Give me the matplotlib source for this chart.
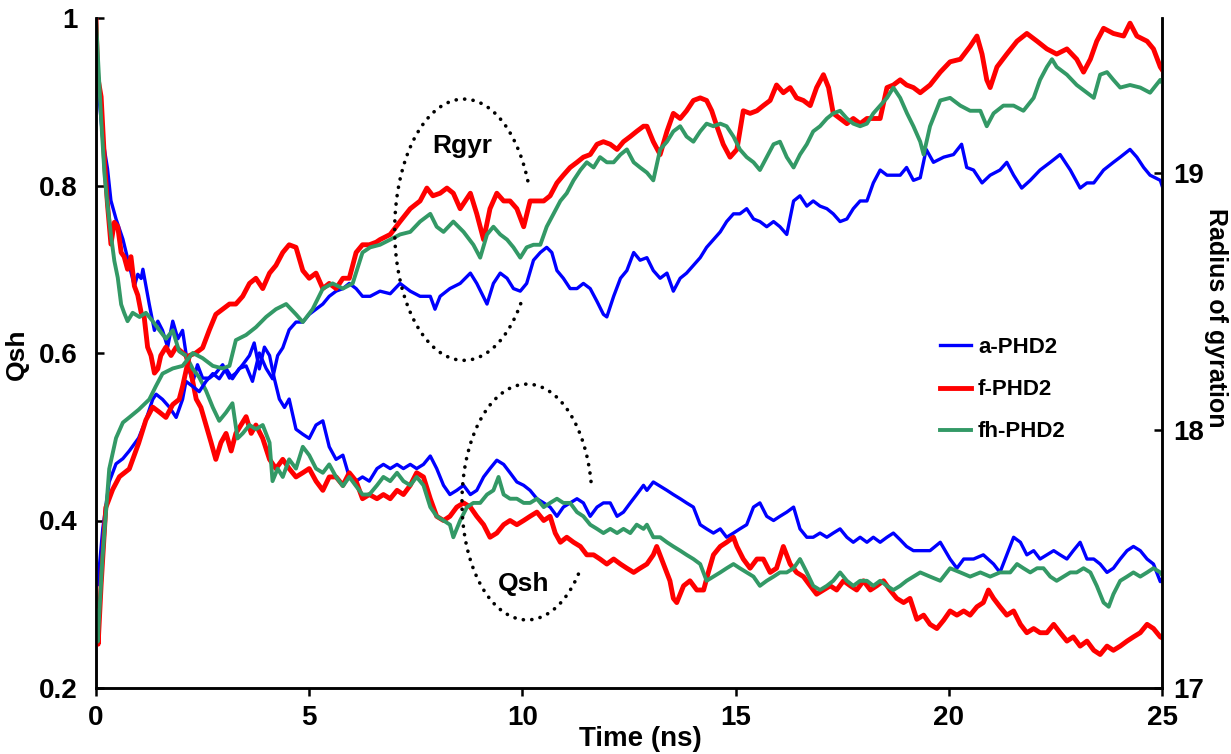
import matplotlib.pyplot as plt
import numpy as np

plt.rcParams['font.family'] = ['Liberation Sans', 'DejaVu Sans']

# Qsh (left axis): (time ns, value)
a_qsh = [(0, 1.0), (0.03, 0.93), (0.08, 0.90), (0.16, 0.855), (0.27, 0.82), (0.35, 0.782), (0.47, 0.76),
         (0.63, 0.736), (0.78, 0.705), (0.9, 0.68), (0.98, 0.694), (1.06, 0.689), (1.1, 0.70), (1.25, 0.658),
         (1.37, 0.627), (1.45, 0.638), (1.56, 0.627), (1.68, 0.607), (1.8, 0.638), (1.92, 0.617), (2.03, 0.627),
         (2.15, 0.586), (2.27, 0.565), (2.38, 0.586), (2.5, 0.57), (2.66, 0.57), (2.81, 0.576), (2.97, 0.586),
         (3.13, 0.57), (3.28, 0.576), (3.44, 0.586), (3.6, 0.597), (3.71, 0.612), (3.83, 0.581), (3.95, 0.607),
         (4.07, 0.597), (4.18, 0.57), (4.3, 0.545), (4.42, 0.535), (4.53, 0.545), (4.69, 0.509), (4.85, 0.503),
         (5.0, 0.498), (5.16, 0.514), (5.32, 0.519), (5.47, 0.488), (5.63, 0.473), (5.79, 0.478), (5.94, 0.452),
         (6.1, 0.447), (6.25, 0.452), (6.41, 0.447), (6.59, 0.462), (6.74, 0.467), (6.9, 0.462), (7.06, 0.467),
         (7.21, 0.462), (7.37, 0.467), (7.52, 0.462), (7.68, 0.467), (7.84, 0.477), (7.99, 0.462), (8.15, 0.442),
         (8.3, 0.431), (8.46, 0.436), (8.62, 0.442), (8.78, 0.431), (8.93, 0.436), (9.09, 0.452), (9.24, 0.462),
         (9.4, 0.472), (9.56, 0.467), (9.71, 0.457), (9.87, 0.446), (10.03, 0.442), (10.18, 0.436), (10.34, 0.426),
         (10.5, 0.421), (10.65, 0.416), (10.81, 0.405), (10.96, 0.416), (11.12, 0.421), (11.28, 0.426),
         (11.43, 0.421), (11.59, 0.405), (11.75, 0.416), (11.9, 0.421), (12.06, 0.421), (12.22, 0.405),
         (12.37, 0.41), (12.53, 0.421), (12.68, 0.431), (12.84, 0.442), (12.92, 0.436), (13.07, 0.446),
         (13.23, 0.441), (13.39, 0.436), (13.54, 0.431), (13.7, 0.426), (13.85, 0.421), (14.01, 0.416),
         (14.17, 0.395), (14.32, 0.39), (14.48, 0.385), (14.64, 0.39), (14.79, 0.38), (14.95, 0.385), (15.1, 0.39),
         (15.26, 0.395), (15.42, 0.416), (15.57, 0.421), (15.73, 0.405), (15.89, 0.40), (16.04, 0.405),
         (16.2, 0.41), (16.36, 0.416), (16.51, 0.39), (16.67, 0.38), (16.82, 0.38), (16.98, 0.385), (17.14, 0.38),
         (17.29, 0.385), (17.45, 0.39), (17.61, 0.38), (17.76, 0.374), (17.92, 0.38), (18.08, 0.374),
         (18.23, 0.38), (18.39, 0.374), (18.55, 0.38), (18.7, 0.385), (18.86, 0.377), (19.01, 0.369),
         (19.17, 0.364), (19.33, 0.364), (19.56, 0.364), (19.8, 0.374), (20.03, 0.354), (20.19, 0.343),
         (20.35, 0.354), (20.58, 0.354), (20.81, 0.359), (21.05, 0.348), (21.2, 0.338), (21.36, 0.359),
         (21.52, 0.38), (21.68, 0.374), (21.83, 0.359), (21.99, 0.364), (22.14, 0.354), (22.3, 0.359),
         (22.46, 0.364), (22.61, 0.359), (22.77, 0.354), (22.92, 0.364), (23.08, 0.374), (23.24, 0.354),
         (23.4, 0.354), (23.55, 0.348), (23.71, 0.338), (23.86, 0.343), (24.02, 0.354), (24.18, 0.364),
         (24.33, 0.369), (24.49, 0.364), (24.65, 0.354), (24.8, 0.348), (24.96, 0.327), (25.0, 0.33)]

f_qsh = [(0, 1.0), (0.04, 0.93), (0.12, 0.906), (0.2, 0.829), (0.27, 0.777), (0.35, 0.73), (0.43, 0.756),
         (0.51, 0.751), (0.59, 0.72), (0.66, 0.715), (0.74, 0.70), (0.82, 0.715), (0.9, 0.68), (0.98, 0.669),
         (1.06, 0.648), (1.13, 0.643), (1.21, 0.607), (1.29, 0.597), (1.37, 0.576), (1.45, 0.581), (1.52, 0.597),
         (1.64, 0.607), (1.76, 0.597), (1.88, 0.607), (1.99, 0.602), (2.11, 0.597), (2.23, 0.576), (2.35, 0.545),
         (2.46, 0.535), (2.58, 0.514), (2.7, 0.493), (2.81, 0.473), (2.93, 0.493), (3.05, 0.504), (3.17, 0.483),
         (3.28, 0.504), (3.4, 0.514), (3.52, 0.524), (3.64, 0.504), (3.75, 0.514), (3.91, 0.498), (4.07, 0.473),
         (4.22, 0.462), (4.38, 0.473), (4.53, 0.462), (4.69, 0.452), (4.85, 0.457), (5.0, 0.462), (5.16, 0.447),
         (5.32, 0.436), (5.47, 0.452), (5.63, 0.452), (5.79, 0.442), (5.94, 0.457), (6.1, 0.447), (6.25, 0.426),
         (6.41, 0.431), (6.59, 0.426), (6.74, 0.431), (6.9, 0.426), (7.06, 0.436), (7.21, 0.431), (7.37, 0.442),
         (7.52, 0.457), (7.68, 0.452), (7.84, 0.426), (7.99, 0.405), (8.15, 0.40), (8.3, 0.405), (8.46, 0.416),
         (8.62, 0.421), (8.78, 0.416), (8.93, 0.405), (9.09, 0.395), (9.24, 0.38), (9.4, 0.385), (9.56, 0.395),
         (9.71, 0.40), (9.87, 0.395), (10.03, 0.40), (10.18, 0.405), (10.34, 0.41), (10.5, 0.40), (10.65, 0.405),
         (10.77, 0.385), (10.89, 0.374), (11.04, 0.38), (11.2, 0.374), (11.36, 0.369), (11.51, 0.359),
         (11.67, 0.359), (11.82, 0.354), (11.98, 0.348), (12.14, 0.354), (12.3, 0.348), (12.45, 0.343),
         (12.61, 0.338), (12.76, 0.343), (12.92, 0.348), (13.07, 0.359), (13.15, 0.369), (13.31, 0.348),
         (13.46, 0.328), (13.54, 0.307), (13.62, 0.302), (13.78, 0.322), (13.93, 0.328), (14.09, 0.317),
         (14.25, 0.317), (14.36, 0.338), (14.48, 0.359), (14.64, 0.369), (14.79, 0.374), (14.95, 0.38),
         (15.03, 0.369), (15.18, 0.354), (15.34, 0.343), (15.5, 0.354), (15.65, 0.354), (15.81, 0.338),
         (15.96, 0.343), (16.12, 0.369), (16.28, 0.348), (16.43, 0.338), (16.59, 0.333), (16.75, 0.322),
         (16.9, 0.312), (17.06, 0.317), (17.22, 0.322), (17.37, 0.317), (17.53, 0.328), (17.69, 0.322),
         (17.84, 0.317), (18.0, 0.328), (18.16, 0.317), (18.31, 0.322), (18.47, 0.328), (18.62, 0.317),
         (18.78, 0.307), (18.94, 0.302), (19.09, 0.307), (19.25, 0.282), (19.41, 0.287), (19.56, 0.276),
         (19.72, 0.271), (19.88, 0.281), (20.03, 0.292), (20.19, 0.287), (20.35, 0.292), (20.5, 0.287),
         (20.66, 0.297), (20.81, 0.302), (20.93, 0.317), (21.05, 0.307), (21.2, 0.297), (21.36, 0.287),
         (21.52, 0.292), (21.68, 0.276), (21.83, 0.266), (21.99, 0.271), (22.14, 0.266), (22.3, 0.266),
         (22.46, 0.276), (22.61, 0.266), (22.77, 0.256), (22.92, 0.261), (23.08, 0.25), (23.24, 0.256),
         (23.4, 0.245), (23.55, 0.24), (23.71, 0.25), (23.86, 0.245), (24.02, 0.25), (24.18, 0.256),
         (24.33, 0.261), (24.49, 0.266), (24.65, 0.276), (24.8, 0.271), (24.96, 0.261), (25.0, 0.26)]

fh_qsh = [(0, 1.0), (0.04, 0.958), (0.12, 0.88), (0.2, 0.813), (0.27, 0.777), (0.35, 0.741), (0.43, 0.71),
          (0.51, 0.69), (0.59, 0.658), (0.66, 0.648), (0.74, 0.638), (0.86, 0.648), (1.02, 0.643), (1.17, 0.648),
          (1.33, 0.638), (1.49, 0.627), (1.64, 0.617), (1.8, 0.627), (1.95, 0.602), (2.11, 0.597), (2.27, 0.581),
          (2.42, 0.571), (2.58, 0.555), (2.74, 0.535), (2.89, 0.519), (3.05, 0.529), (3.2, 0.54), (3.32, 0.498),
          (3.44, 0.504), (3.6, 0.514), (3.75, 0.509), (3.91, 0.514), (4.07, 0.493), (4.14, 0.447), (4.26, 0.462),
          (4.38, 0.452), (4.53, 0.473), (4.69, 0.462), (4.85, 0.488), (5.0, 0.478), (5.16, 0.462), (5.32, 0.457),
          (5.47, 0.467), (5.63, 0.452), (5.79, 0.441), (5.94, 0.452), (6.1, 0.441), (6.25, 0.431), (6.41, 0.431),
          (6.59, 0.442), (6.74, 0.452), (6.9, 0.447), (7.06, 0.457), (7.21, 0.447), (7.37, 0.442), (7.52, 0.452),
          (7.68, 0.442), (7.84, 0.416), (7.99, 0.405), (8.15, 0.40), (8.3, 0.395), (8.38, 0.38), (8.54, 0.40),
          (8.7, 0.416), (8.85, 0.421), (9.01, 0.421), (9.17, 0.431), (9.32, 0.436), (9.44, 0.452), (9.56, 0.431),
          (9.71, 0.426), (9.87, 0.426), (10.03, 0.421), (10.18, 0.421), (10.34, 0.426), (10.5, 0.416),
          (10.65, 0.421), (10.81, 0.426), (10.96, 0.421), (11.12, 0.421), (11.28, 0.41), (11.43, 0.405),
          (11.59, 0.395), (11.75, 0.39), (11.9, 0.385), (12.06, 0.39), (12.22, 0.385), (12.37, 0.39),
          (12.53, 0.385), (12.68, 0.395), (12.84, 0.39), (12.92, 0.395), (13.07, 0.38), (13.23, 0.38),
          (13.39, 0.374), (13.54, 0.369), (13.7, 0.364), (13.85, 0.359), (14.01, 0.354), (14.17, 0.348),
          (14.32, 0.328), (14.48, 0.333), (14.64, 0.338), (14.79, 0.343), (14.95, 0.348), (15.1, 0.343),
          (15.26, 0.338), (15.42, 0.333), (15.57, 0.322), (15.73, 0.328), (15.89, 0.333), (16.04, 0.338),
          (16.2, 0.338), (16.36, 0.343), (16.51, 0.354), (16.67, 0.338), (16.82, 0.322), (16.98, 0.317),
          (17.14, 0.322), (17.29, 0.328), (17.45, 0.338), (17.61, 0.328), (17.76, 0.322), (17.92, 0.328),
          (18.08, 0.328), (18.23, 0.322), (18.39, 0.328), (18.55, 0.322), (18.7, 0.317), (18.86, 0.322),
          (19.01, 0.328), (19.17, 0.333), (19.33, 0.338), (19.56, 0.333), (19.8, 0.328), (20.03, 0.343),
          (20.27, 0.338), (20.5, 0.333), (20.74, 0.338), (20.97, 0.333), (21.2, 0.338), (21.44, 0.338),
          (21.6, 0.348), (21.75, 0.343), (21.91, 0.338), (22.07, 0.343), (22.22, 0.343), (22.38, 0.333),
          (22.53, 0.328), (22.69, 0.333), (22.85, 0.338), (23.0, 0.338), (23.16, 0.343), (23.32, 0.338),
          (23.47, 0.322), (23.63, 0.302), (23.75, 0.297), (23.86, 0.312), (24.02, 0.328), (24.18, 0.333),
          (24.33, 0.338), (24.49, 0.333), (24.65, 0.338), (24.8, 0.343), (24.96, 0.338), (25.0, 0.335)]

# Radius of gyration (right axis): (time ns, value)
a_rg = [(0, 17.45), (0.04, 17.40), (0.16, 17.62), (0.31, 17.80), (0.47, 17.87), (0.63, 17.89), (0.78, 17.92),
        (1.0, 17.97), (1.17, 18.04), (1.33, 18.12), (1.41, 18.14), (1.56, 18.12), (1.72, 18.09), (1.88, 18.05),
        (2.03, 18.12), (2.11, 18.19), (2.27, 18.17), (2.42, 18.15), (2.58, 18.19), (2.74, 18.22), (2.89, 18.20),
        (3.05, 18.24), (3.2, 18.20), (3.36, 18.24), (3.52, 18.25), (3.67, 18.19), (3.83, 18.30), (3.99, 18.24),
        (4.14, 18.20), (4.26, 18.29), (4.38, 18.32), (4.53, 18.39), (4.69, 18.42), (4.85, 18.42), (5.0, 18.45),
        (5.16, 18.47), (5.32, 18.49), (5.47, 18.52), (5.63, 18.54), (5.79, 18.55), (5.94, 18.57), (6.1, 18.55),
        (6.25, 18.52), (6.43, 18.52), (6.66, 18.54), (6.9, 18.53), (7.13, 18.57), (7.37, 18.54), (7.6, 18.52),
        (7.84, 18.52), (7.95, 18.47), (8.07, 18.52), (8.3, 18.55), (8.54, 18.57), (8.78, 18.61), (8.93, 18.57),
        (9.17, 18.49), (9.32, 18.57), (9.48, 18.61), (9.64, 18.59), (9.79, 18.55), (9.95, 18.54), (10.1, 18.57),
        (10.26, 18.66), (10.42, 18.69), (10.57, 18.71), (10.69, 18.69), (10.81, 18.62), (10.96, 18.59),
        (11.12, 18.55), (11.28, 18.55), (11.43, 18.57), (11.59, 18.55), (11.75, 18.50), (11.9, 18.45),
        (11.98, 18.44), (12.14, 18.52), (12.3, 18.59), (12.45, 18.62), (12.61, 18.69), (12.76, 18.66),
        (12.92, 18.67), (13.07, 18.62), (13.23, 18.59), (13.39, 18.61), (13.54, 18.54), (13.7, 18.59),
        (13.85, 18.61), (14.01, 18.64), (14.17, 18.67), (14.32, 18.71), (14.48, 18.74), (14.64, 18.77),
        (14.79, 18.81), (14.95, 18.84), (15.1, 18.84), (15.26, 18.86), (15.42, 18.82), (15.57, 18.81),
        (15.73, 18.79), (15.89, 18.81), (16.04, 18.79), (16.2, 18.76), (16.36, 18.89), (16.51, 18.91),
        (16.67, 18.87), (16.82, 18.89), (16.98, 18.87), (17.14, 18.86), (17.29, 18.84), (17.45, 18.81),
        (17.61, 18.82), (17.76, 18.86), (17.92, 18.89), (18.08, 18.89), (18.23, 18.96), (18.39, 19.01),
        (18.55, 18.99), (18.7, 18.99), (18.86, 18.99), (19.01, 19.02), (19.17, 18.97), (19.33, 18.98),
        (19.47, 19.09), (19.64, 19.04), (19.88, 19.06), (20.11, 19.07), (20.3, 19.11), (20.42, 19.02),
        (20.58, 19.01), (20.78, 18.96), (20.97, 18.99), (21.2, 19.01), (21.36, 19.04), (21.52, 18.99),
        (21.71, 18.94), (21.91, 18.97), (22.14, 19.01), (22.38, 19.04), (22.61, 19.07), (22.85, 19.01),
        (23.08, 18.94), (23.24, 18.96), (23.4, 18.96), (23.63, 19.01), (23.86, 19.04), (24.02, 19.06),
        (24.25, 19.09), (24.41, 19.06), (24.57, 19.02), (24.72, 18.99), (24.96, 18.97), (25.0, 18.95)]

f_rg = [(0, 17.30), (0.05, 17.17), (0.12, 17.40), (0.23, 17.70), (0.39, 17.77), (0.55, 17.82), (0.78, 17.85),
        (1.0, 17.95), (1.17, 18.04), (1.33, 18.09), (1.49, 18.07), (1.64, 18.05), (1.8, 18.10), (1.95, 18.12),
        (2.03, 18.17), (2.19, 18.29), (2.34, 18.30), (2.5, 18.32), (2.66, 18.39), (2.81, 18.45), (2.97, 18.47),
        (3.13, 18.49), (3.28, 18.49), (3.44, 18.52), (3.6, 18.57), (3.75, 18.59), (3.91, 18.55), (4.07, 18.61),
        (4.22, 18.64), (4.38, 18.69), (4.53, 18.72), (4.69, 18.71), (4.85, 18.62), (5.0, 18.59), (5.16, 18.61),
        (5.32, 18.55), (5.47, 18.57), (5.63, 18.55), (5.79, 18.59), (5.94, 18.59), (6.1, 18.69), (6.25, 18.72),
        (6.41, 18.72), (6.57, 18.73), (6.66, 18.74), (6.9, 18.76), (7.13, 18.81), (7.37, 18.86), (7.6, 18.89),
        (7.76, 18.94), (7.9, 18.91), (8.07, 18.92), (8.23, 18.94), (8.38, 18.92), (8.54, 18.86), (8.78, 18.92),
        (8.93, 18.84), (9.09, 18.74), (9.24, 18.86), (9.4, 18.92), (9.56, 18.89), (9.71, 18.89), (9.87, 18.86),
        (10.03, 18.79), (10.18, 18.89), (10.34, 18.89), (10.5, 18.89), (10.65, 18.91), (10.81, 18.96),
        (10.96, 18.99), (11.12, 19.02), (11.28, 19.04), (11.43, 19.06), (11.59, 19.07), (11.75, 19.11),
        (11.9, 19.12), (12.06, 19.11), (12.22, 19.09), (12.37, 19.12), (12.53, 19.14), (12.68, 19.16),
        (12.84, 19.18), (12.92, 19.18), (13.07, 19.12), (13.23, 19.07), (13.39, 19.16), (13.54, 19.23),
        (13.7, 19.21), (13.85, 19.24), (14.01, 19.28), (14.17, 19.29), (14.32, 19.28), (14.44, 19.24),
        (14.56, 19.18), (14.71, 19.11), (14.87, 19.06), (15.03, 19.09), (15.18, 19.24), (15.34, 19.23),
        (15.5, 19.24), (15.65, 19.26), (15.81, 19.28), (15.96, 19.34), (16.12, 19.31), (16.28, 19.33),
        (16.43, 19.29), (16.59, 19.28), (16.75, 19.26), (16.9, 19.33), (17.06, 19.38), (17.18, 19.33),
        (17.29, 19.23), (17.45, 19.21), (17.61, 19.19), (17.76, 19.21), (17.92, 19.19), (18.08, 19.21),
        (18.23, 19.21), (18.39, 19.21), (18.55, 19.33), (18.7, 19.34), (18.86, 19.36), (19.01, 19.34),
        (19.17, 19.33), (19.33, 19.31), (19.56, 19.34), (19.8, 19.39), (20.03, 19.43), (20.27, 19.44),
        (20.5, 19.49), (20.66, 19.53), (20.78, 19.46), (20.89, 19.36), (20.97, 19.33), (21.13, 19.41),
        (21.36, 19.46), (21.6, 19.51), (21.83, 19.54), (22.07, 19.51), (22.3, 19.48), (22.53, 19.46),
        (22.77, 19.48), (23.0, 19.44), (23.16, 19.39), (23.32, 19.44), (23.47, 19.51), (23.63, 19.56),
        (23.86, 19.54), (24.1, 19.53), (24.25, 19.58), (24.41, 19.53), (24.65, 19.51), (24.8, 19.48),
        (24.96, 19.41), (25.0, 19.40)]

fh_rg = [(0, 17.30), (0.04, 17.18), (0.15, 17.50), (0.31, 17.85), (0.47, 17.97), (0.63, 18.03), (0.78, 18.05),
         (1.0, 18.08), (1.25, 18.12), (1.4, 18.17), (1.56, 18.22), (1.8, 18.24), (2.03, 18.25), (2.27, 18.30),
         (2.5, 18.28), (2.74, 18.25), (2.97, 18.24), (3.13, 18.25), (3.28, 18.35), (3.52, 18.37), (3.75, 18.40),
         (3.99, 18.44), (4.22, 18.47), (4.46, 18.49), (4.69, 18.45), (4.85, 18.42), (5.08, 18.47), (5.32, 18.55),
         (5.55, 18.57), (5.79, 18.55), (6.02, 18.57), (6.25, 18.69), (6.43, 18.71), (6.66, 18.72), (6.9, 18.74),
         (7.13, 18.76), (7.37, 18.77), (7.6, 18.81), (7.84, 18.84), (7.99, 18.79), (8.15, 18.77), (8.38, 18.81),
         (8.62, 18.77), (8.85, 18.72), (9.01, 18.67), (9.17, 18.76), (9.32, 18.79), (9.48, 18.76), (9.64, 18.74),
         (9.79, 18.71), (9.95, 18.67), (10.1, 18.71), (10.26, 18.72), (10.42, 18.72), (10.57, 18.79),
         (10.73, 18.84), (10.89, 18.89), (11.04, 18.92), (11.2, 18.97), (11.36, 19.01), (11.51, 19.04),
         (11.67, 19.02), (11.82, 19.06), (11.98, 19.04), (12.14, 19.04), (12.3, 19.07), (12.45, 19.09),
         (12.61, 19.04), (12.76, 19.02), (12.92, 19.00), (13.07, 18.97), (13.23, 19.09), (13.39, 19.12),
         (13.54, 19.16), (13.7, 19.18), (13.85, 19.14), (14.01, 19.12), (14.17, 19.16), (14.32, 19.19),
         (14.48, 19.18), (14.64, 19.19), (14.79, 19.18), (14.95, 19.14), (15.1, 19.09), (15.26, 19.06),
         (15.42, 19.04), (15.57, 19.01), (15.73, 19.06), (15.89, 19.11), (16.04, 19.12), (16.2, 19.06),
         (16.36, 19.02), (16.51, 19.07), (16.67, 19.11), (16.82, 19.16), (16.98, 19.18), (17.14, 19.21),
         (17.29, 19.23), (17.45, 19.24), (17.61, 19.21), (17.76, 19.19), (17.92, 19.18), (18.08, 19.19),
         (18.23, 19.23), (18.39, 19.26), (18.55, 19.29), (18.7, 19.33), (18.86, 19.29), (19.02, 19.23),
         (19.17, 19.18), (19.33, 19.12), (19.41, 19.07), (19.56, 19.18), (19.8, 19.28), (20.03, 19.29),
         (20.27, 19.26), (20.5, 19.24), (20.74, 19.24), (20.89, 19.18), (21.05, 19.23), (21.28, 19.26),
         (21.52, 19.26), (21.75, 19.24), (21.99, 19.29), (22.14, 19.36), (22.3, 19.41), (22.42, 19.44),
         (22.53, 19.41), (22.77, 19.38), (23.0, 19.34), (23.24, 19.31), (23.4, 19.29), (23.55, 19.38),
         (23.71, 19.39), (23.86, 19.36), (24.02, 19.33), (24.25, 19.34), (24.49, 19.33), (24.72, 19.31),
         (24.96, 19.36), (25.0, 19.35)]

series_names = ['a-PHD2', 'f-PHD2', 'fh-PHD2']
colors = ['#0000FF', '#FF0000', '#339966']
widths = [2.4, 3.5, 2.8]

W, H = 1231, 754
fig = plt.figure(figsize=(W / 100, H / 100), dpi=100)
ax = fig.add_axes([96 / W, 1 - 688 / H, 1066 / W, 670 / H])
ax2 = ax.twinx()

for name, data, c, lw in zip(series_names, [a_qsh, f_qsh, fh_qsh], colors, widths):
    t, v = zip(*data)
    ax.plot(t, v, color=c, lw=lw, label=name)
for data, c, lw in zip([a_rg, f_rg, fh_rg], colors, widths):
    t, v = zip(*data)
    ax2.plot(t, v, color=c, lw=lw)

ax.set_xlim(0, 25)
ax.set_ylim(0.2, 1.0)
ax2.set_ylim(17, 19.6)
ax.set_xticks([0, 5, 10, 15, 20, 25])
ax.set_yticks([0.2, 0.4, 0.6, 0.8, 1.0])
ax.set_yticklabels(['0.2', '0.4', '0.6', '0.8', '1'])
ax2.set_yticks([17, 18, 19])

for a in (ax, ax2):
    a.spines['top'].set_visible(False)
    for s in a.spines.values():
        s.set_linewidth(1.8)
ax.tick_params(axis='x', direction='out', length=6, width=1.8, pad=6, labelsize=20)
ax.tick_params(axis='y', direction='in', length=6, width=1.8, pad=13, labelsize=20)
ax2.tick_params(axis='y', direction='in', length=6, width=1.8, pad=8, labelsize=20)
for lab in ax.get_xticklabels() + ax.get_yticklabels() + ax2.get_yticklabels():
    lab.set_fontweight('bold')

fig.text(17 / W, 1 - 354 / H, 'Qsh', rotation=90, ha='center', va='center', fontsize=19, fontweight='bold')
fig.text(1216 / W, 1 - 318 / H, 'Radius of gyration', rotation=270, ha='center', va='center', fontsize=18,
         fontweight='bold')
fig.text(640 / W, 1 - 739 / H, 'Time (ns)', ha='center', va='center', fontsize=20, fontweight='bold')

# dotted ellipses (open on the right side)
def open_ellipse(cx, cy, a, b, start, stop):
    th = np.radians(np.linspace(start, stop, 200))
    ax2.plot(cx + a * np.cos(th), cy + b * np.sin(th), transform=ax2.transAxes, color='black', lw=2.6,
             linestyle=(0, (0.05, 2.3)), dash_capstyle='round', clip_on=False)

open_ellipse(0.345, 0.684, 0.0648, 0.195, 22, 328)
open_ellipse(0.4043, 0.2776, 0.061, 0.176, 10, 326)
ax2.text(0.344, 0.809, 'Rgyr', transform=ax2.transAxes, ha='center', va='center', fontsize=19, fontweight='bold')
ax2.text(0.4015, 0.155, 'Qsh', transform=ax2.transAxes, ha='center', va='center', fontsize=19, fontweight='bold')

handles, labels = ax.get_legend_handles_labels()
ax2.legend(handles, labels, loc='center left', bbox_to_anchor=(0.792, 0.445), frameon=False,
           prop={'weight': 'bold', 'size': 16}, handlelength=1.4, handletextpad=0.3, labelspacing=0.95,
           borderpad=0, borderaxespad=0)

fig.savefig('out.png', dpi=100)
